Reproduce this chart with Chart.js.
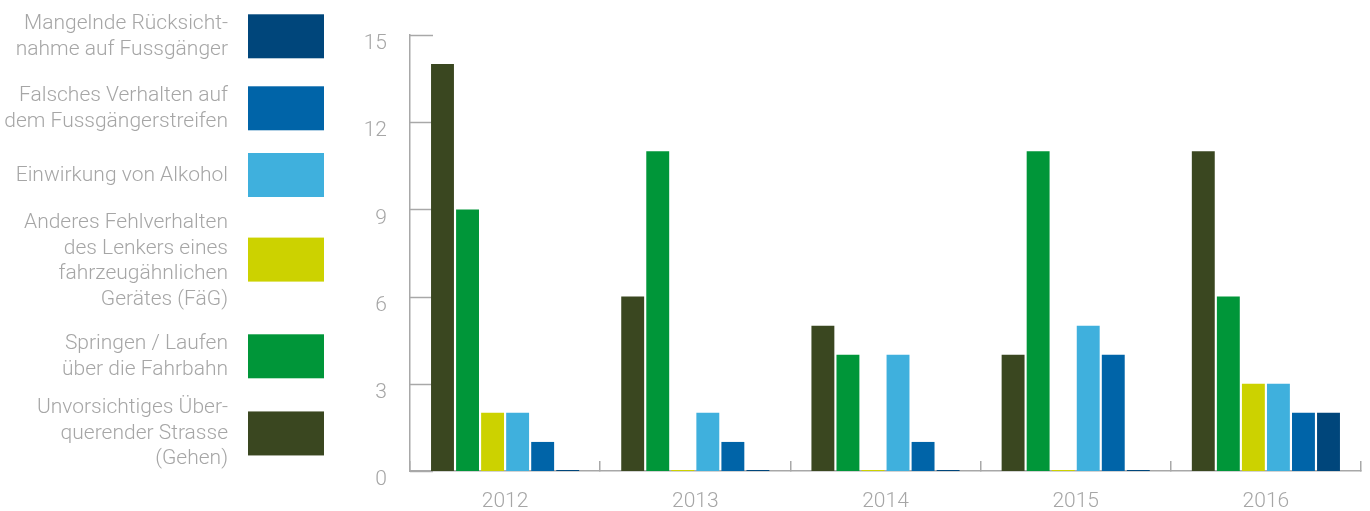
<!DOCTYPE html>
<html>
<head>
<meta charset="utf-8">
<script src="https://cdn.jsdelivr.net/npm/chart.js@4/dist/chart.umd.min.js"></script>
<style>
    body { margin: 0; background: #fff; font-family: Roboto, "Liberation Sans", sans-serif; font-weight: 300; }
    #wrap { position: relative; width: 1370px; height: 511px; }
    #chart { position: absolute; left: 0; top: 0; }
    .legend-item { position: absolute; left: 0; width: 324px; display: flex; align-items: center; transform: translateY(-50%); }
    .legend-text { width: 228px; text-align: right; color: #a6a6a6; font-size: 21px; line-height: 25.7px; }
    .legend-box { width: 76px; height: 44px; margin-left: 20px; flex: none; }
</style>
</head>
<body>
<div id="wrap">
    <canvas id="chart" width="1370" height="511"></canvas>
    <div id="legend"></div>
</div>
<script>
const years = ['2012', '2013', '2014', '2015', '2016'];

const seriesNames = [
    'Unvorsichtiges Über-\nquerender Strasse\n(Gehen)',
    'Springen / Laufen\nüber die Fahrbahn',
    'Anderes Fehlverhalten\ndes Lenkers eines\nfahrzeugähnlichen\nGerätes (FäG)',
    'Einwirkung von Alkohol',
    'Falsches Verhalten auf\ndem Fussgängerstreifen',
    'Mangelnde Rücksicht-\nnahme auf Fussgänger'
];
const seriesColors = ['#3a4720', '#009639', '#ccd200', '#3fb0dd', '#0064a8', '#00467b'];

const unvorsichtig = [14, 6, 5, 4, 11];
const springen = [9, 11, 4, 11, 6];
const fahrzeugaehnlich = [2, 0, 0, 0, 3];
const alkohol = [2, 2, 4, 5, 3];
const fussgaengerstreifen = [1, 1, 1, 4, 2];
const ruecksicht = [0, 0, 0, 0, 2];

const yTicks = [0, 3, 6, 9, 12, 15];

const seriesValues = [unvorsichtig, springen, fahrzeugaehnlich, alkohol, fussgaengerstreifen, ruecksicht];

// legend on the left, top entry is the last series
const legendCenters = [433, 356, 260, 175, 108, 36];
const legend = document.getElementById('legend');
seriesNames.forEach((name, i) => {
    const item = document.createElement('div');
    item.className = 'legend-item';
    item.style.top = legendCenters[i] + 'px';
    const text = document.createElement('div');
    text.className = 'legend-text';
    name.split('\n').forEach((line, j) => {
        if (j > 0) text.appendChild(document.createElement('br'));
        text.appendChild(document.createTextNode(line));
    });
    const box = document.createElement('div');
    box.className = 'legend-box';
    box.style.background = seriesColors[i];
    item.appendChild(text);
    item.appendChild(box);
    legend.appendChild(item);
});

const axisColor = '#a8a8a8';
const tickFont = { family: 'Roboto, "Liberation Sans", sans-serif', size: 21, weight: 300 };

// short tick marks pointing into the plot from the y axis
const innerYTicks = {
    id: 'innerYTicks',
    beforeDatasetsDraw(chart) {
        const { ctx, chartArea, scales } = chart;
        ctx.save();
        ctx.strokeStyle = axisColor;
        ctx.lineWidth = 1.5;
        yTicks.forEach(v => {
            const y = Math.round(scales.y.getPixelForValue(v)) + 0.5;
            ctx.beginPath();
            ctx.moveTo(chartArea.left, y);
            ctx.lineTo(chartArea.left + 23, y);
            ctx.stroke();
        });
        ctx.restore();
    }
};

new Chart(document.getElementById('chart'), {
    type: 'bar',
    data: {
        labels: years,
        datasets: seriesNames.map((name, i) => ({
            label: name.replace(/\n/g, ' '),
            data: seriesValues[i],
            backgroundColor: seriesColors[i],
            categoryPercentage: 0.79,
            barPercentage: 0.915,
            minBarLength: 1
        }))
    },
    options: {
        responsive: false,
        animation: false,
        layout: { padding: { left: 340, right: 9, top: 35, bottom: 0 } },
        plugins: {
            legend: { display: false },
            tooltip: { enabled: false }
        },
        scales: {
            x: {
                grid: {
                    offset: true,
                    drawOnChartArea: false,
                    tickLength: -10,
                    color: axisColor,
                    lineWidth: 1.5
                },
                border: { color: axisColor, width: 1.5 },
                ticks: { color: '#a6a6a6', font: tickFont, padding: 28 },
                afterFit: scale => { scale.height = 40; }
            },
            y: {
                min: 0,
                max: 15,
                afterBuildTicks: scale => { scale.ticks = yTicks.map(v => ({ value: v })); },
                grid: { display: false },
                border: { color: axisColor, width: 1.5 },
                ticks: { color: '#a6a6a6', font: tickFont, padding: 15, labelOffset: 9 },
                afterFit: scale => { scale.width = 70; }
            }
        }
    },
    plugins: [innerYTicks]
});
</script>
</body>
</html>
